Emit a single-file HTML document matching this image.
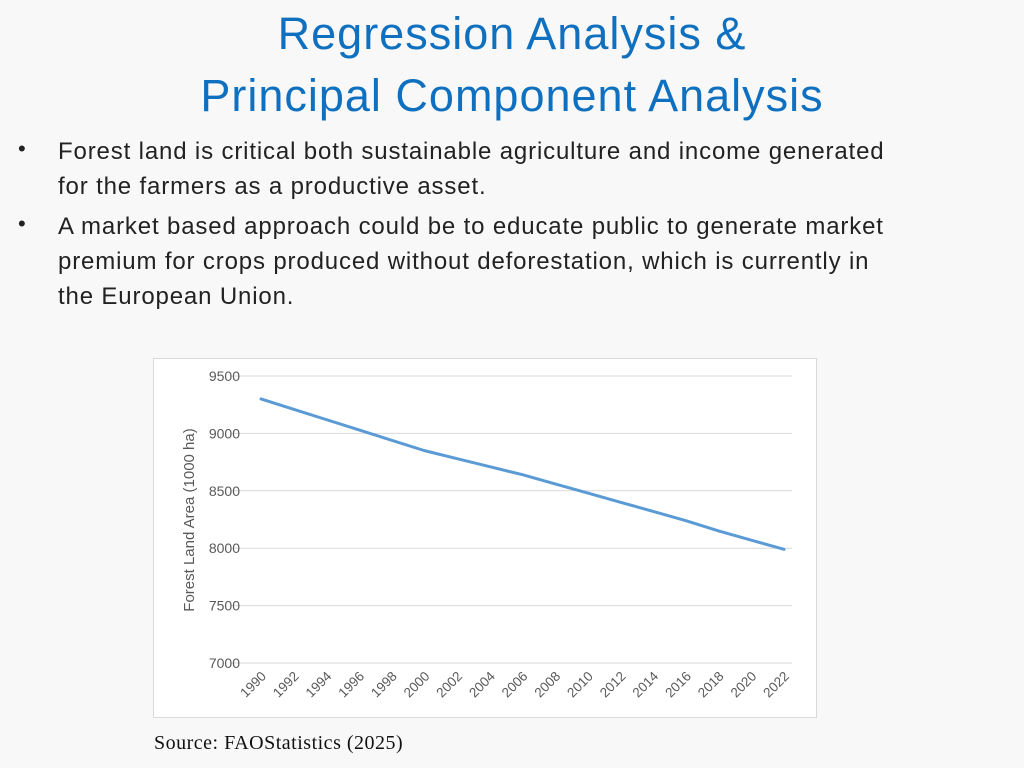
<!DOCTYPE html>
<html><head><meta charset="utf-8">
<style>
body{margin:0;width:1024px;height:768px;background:#f8f8f8;font-family:"Liberation Sans",sans-serif;position:relative;overflow:hidden}
.t{position:absolute;left:0;width:1024px;text-align:center;color:#1070c0;font-size:45px;letter-spacing:1px}
.b{position:absolute;left:58px;font-size:24px;letter-spacing:0.85px;color:#222;line-height:35px;width:960px;white-space:nowrap}
.dot{position:absolute;left:18px;font-size:22px;color:#222}
.src{position:absolute;left:154px;top:732px;font-family:"Liberation Serif",serif;font-size:20px;letter-spacing:0.5px;color:#111}
</style></head><body>
<div class="t" style="top:8px">Regression Analysis &amp;</div>
<div class="t" style="top:70px">Principal Component Analysis</div>
<div class="dot" style="top:136px">•</div>
<div class="b" style="top:134px">Forest land is critical both sustainable agriculture and income generated<br>for the farmers as a productive asset.</div>
<div class="dot" style="top:211px">•</div>
<div class="b" style="top:209px">A market based approach could be to educate public to generate market<br>premium for crops produced without deforestation, which is currently in<br>the European Union.</div>
<svg id="chart" style="position:absolute;left:0;top:0" width="1024" height="768">
<rect x="153.5" y="358.5" width="663" height="359" fill="#fff" stroke="#d9d9d9"/>
<text x="0" y="0" transform="translate(194,520) rotate(-90)" text-anchor="middle" font-size="15" fill="#595959" font-family="Liberation Sans">Forest Land Area (1000 ha)</text>
</svg>
<div class="src">Source: FAOStatistics (2025)</div>
<script>
const years=[1990,1992,1994,1996,1998,2000,2002,2004,2006,2008,2010,2012,2014,2016,2018,2020,2022];
const forestArea=[9300,9210,9120,9030,8940,8850,8780,8710,8640,8560,8480,8400,8320,8240,8150,8070,7990];
const yTicks=[7000,7500,8000,8500,9000,9500];
const NS='http://www.w3.org/2000/svg';
const svg=document.getElementById('chart');
const x=i=>261+i*(784-261)/(years.length-1);
const y=v=>663-(v-7000)*(663-376)/2500;
function mk(t,a){const e=document.createElementNS(NS,t);for(const k in a)e.setAttribute(k,a[k]);svg.appendChild(e);return e;}
yTicks.forEach(v=>{
 const g=mk('line',{x1:231,x2:792,y1:y(v),y2:y(v),stroke:'#d9d9d9','stroke-width':1});
 
 
 const t=mk('text',{x:240,y:y(v)+5,'text-anchor':'end','font-size':14,fill:'#595959','font-family':'Liberation Sans'});
 t.textContent=v;
 
 
});
years.forEach((yr,i)=>{
 const t=mk('text',{transform:`translate(${x(i)+6},${677}) rotate(-45)`,'text-anchor':'end','font-size':13.5,fill:'#595959','font-family':'Liberation Sans'});
 t.textContent=yr;
 
 
});
const p=mk('polyline',{points:forestArea.map((v,i)=>x(i)+','+y(v)).join(' '),fill:'none',stroke:'#5b9bd5','stroke-width':3,'stroke-linejoin':'round','stroke-linecap':'round'});


</script>
</body></html>
